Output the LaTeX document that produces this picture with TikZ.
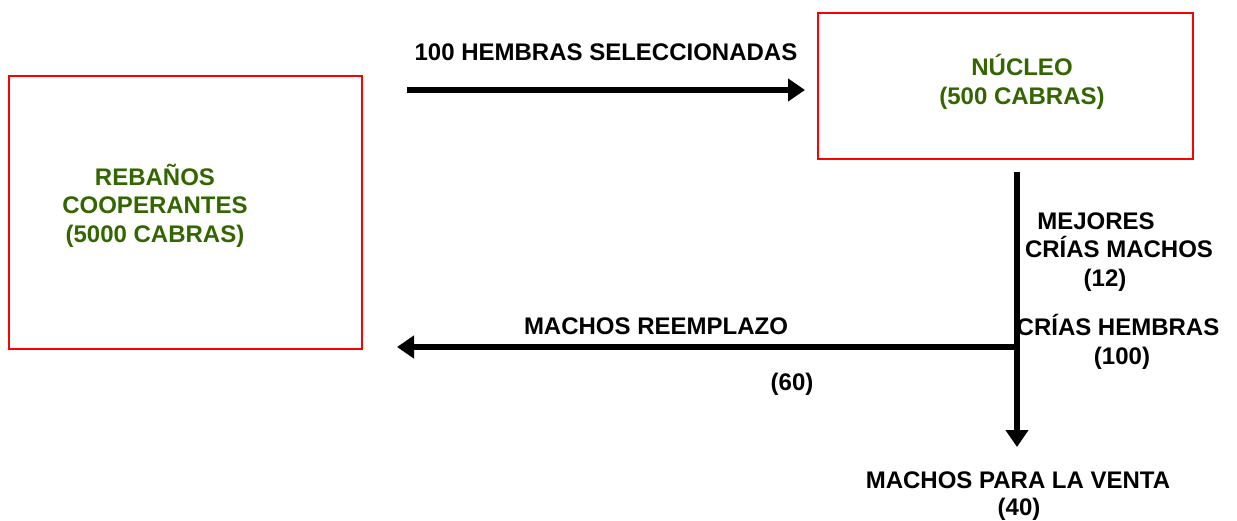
\documentclass[tikz,border=0pt]{standalone}
\usepackage{fontspec}
\setmainfont{Liberation Sans}
\usetikzlibrary{arrows.meta}
\definecolor{verdeoscuro}{RGB}{51,102,0}

\begin{document}
\begin{tikzpicture}[x=0.5pt,y=-0.5pt,
    caja/.style={draw=red,line width=1.2pt},
    flecha/.style={line width=2.8pt,-{Triangle[length=8.5pt,width=11pt]}},
    etiq/.style={font=\bfseries\fontsize{12}{14}\selectfont,inner sep=0pt,anchor=base},
    verde/.style={etiq,text=verdeoscuro}]
  \useasboundingbox (0,0) rectangle (1237,520);

  \draw[caja] (9,76) rectangle (362,349);
  \draw[caja] (818,13) rectangle (1193,159);

  \node[verde] (reb1) at (155,185) {REBAÑOS};
  \node[verde] (reb2) at (155,213) {COOPERANTES};
  \node[verde] (reb3) at (155,242) {(5000 CABRAS)};
  \node[verde] (nuc1) at (1022,75) {NÚCLEO};
  \node[verde] (nuc2) at (1022,104) {(500 CABRAS)};

  \coordinate (iniSel)   at (407,90);
  \coordinate (finSel)   at (805,90);
  \coordinate (iniCrias) at (1017,172);
  \coordinate (cruce)    at (1017,347);
  \coordinate (finVenta) at (1017,447);
  \coordinate (finReemp) at (397,347);

  \draw[flecha] (iniSel) -- (finSel);
  \draw[flecha] (iniCrias) -- (finVenta);
  \draw[flecha] (cruce) -- (finReemp);

  \node[etiq] (sel)    at (606,60)   {100 HEMBRAS SELECCIONADAS};
  \node[etiq] (mej1)   at (1096,229) {MEJORES};
  \node[etiq] (mej2)   at (1119,257) {CRÍAS MACHOS};
  \node[etiq] (mej3)   at (1105,286) {(12)};
  \node[etiq] (hem1)   at (1118,335) {CRÍAS HEMBRAS};
  \node[etiq] (hem2)   at (1122,364) {(100)};
  \node[etiq] (reemp1) at (656,334)  {MACHOS REEMPLAZO};
  \node[etiq] (reemp2) at (792,390)  {(60)};
  \node[etiq] (venta1) at (1018,488) {MACHOS PARA LA VENTA};
  \node[etiq] (venta2) at (1019,515) {(40)};
\end{tikzpicture}
\end{document}
